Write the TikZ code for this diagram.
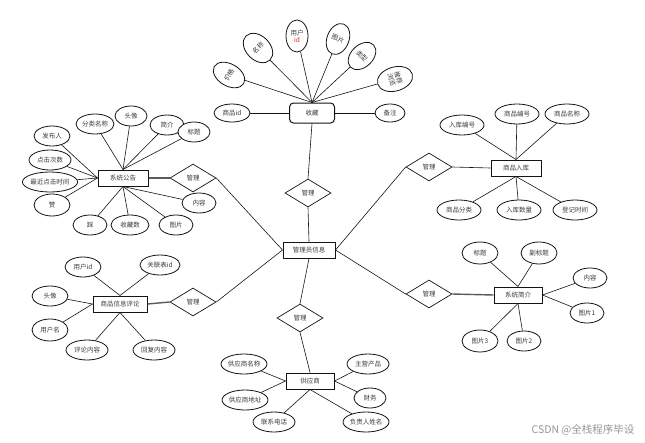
\documentclass[tikz,border=0pt]{standalone}
\usepackage{fontspec}
\newfontfamily\cjk{Noto Sans CJK SC}
\usetikzlibrary{shapes.geometric, positioning}
\definecolor{erLine}{RGB}{20, 20, 20}
\definecolor{erText}{RGB}{60, 60, 60}
\definecolor{erMark}{RGB}{150, 150, 150}
\definecolor{erRed}{RGB}{200, 40, 40}
\tikzset{
    erEntity/.style={draw=erLine, line width=1pt, fill=white, minimum width=50pt,
        minimum height=16pt, inner sep=1pt, text=erText,
        font=\cjk\fontsize{6.5}{7}\selectfont},
    erAttr/.style={draw=erLine, ellipse, line width=0.8pt, fill=white,
        minimum width=40pt, minimum height=20pt, inner sep=0pt, text=erText,
        align=center, font=\cjk\fontsize{6.5}{7}\selectfont},
    erRel/.style={draw=erLine, diamond, aspect=1.6, line width=0.7pt, fill=white,
        minimum width=46pt, minimum height=28pt, inner sep=0pt, text=erText,
        font=\cjk\fontsize{6.5}{7}\selectfont},
    erLink/.style={draw=erLine, line width=0.6pt},
    erLinkBold/.style={draw=erLine!70, line width=1.4pt},
}

\begin{document}
\begin{tikzpicture}[x=1pt, y=-1pt]
    \useasboundingbox (0,0) rectangle (645,442);

    % Admin and relations
    \node[erEntity, minimum width=52pt] (admin) at (309,250) {管理员信息};
    \node[erRel] (relTop) at (308,193) {管理};
    \node[erRel] (relNotice) at (193,178) {管理};
    \node[erRel] (relComment) at (193,302) {管理};
    \node[erRel] (relStock) at (429,167) {管理};
    \node[erRel] (relIntro) at (429,294) {管理};
    \node[erRel] (relSupply) at (300,318) {管理};

    % Favourites
    \node[erEntity, rounded corners=4pt, minimum width=45pt, minimum height=20pt]
        (favour) at (312,113) {收藏};
    \node[erAttr, minimum width=36pt, minimum height=18pt] (favGoodsId) at (232,113) {商品id};
    \node[erAttr, minimum width=30pt, minimum height=18pt] (favNote) at (390,113) {备注};
    \node[erAttr, minimum width=22pt, minimum height=34pt, rotate=60] (favPrice) at (229,75) {价格};
    \node[erAttr, minimum width=24pt, minimum height=34pt, rotate=45] (favName) at (258,48) {名称};
    \node[erAttr, minimum width=22pt, minimum height=32pt] (favUser) at (297,36)
        {用户\\\textcolor{erRed}{id}};
    \node[erAttr, minimum width=22pt, minimum height=32pt, rotate=-21] (favImage) at (338,39) {图片};
    \node[erAttr, minimum width=22pt, minimum height=32pt, rotate=-46] (favType) at (362,56) {类型};
    \node[erAttr, minimum width=24pt, minimum height=36pt, rotate=-74] (favBrowse) at (395,79) {推荐\\浏览};

    % Notice
    \node[erEntity] (notice) at (123,178) {系统公告};
    \node[erAttr, minimum width=36pt] (ntAuthor) at (52,136) {发布人};
    \node[erAttr, minimum width=38pt] (ntClass) at (95,124) {分类名称};
    \node[erAttr, minimum width=32pt] (ntAvatar) at (131,116) {头像};
    \node[erAttr, minimum width=34pt] (ntBrief) at (167,125) {简介};
    \node[erAttr, minimum width=32pt] (ntTitle) at (194,132) {标题};
    \node[erAttr, minimum width=42pt] (ntClicks) at (50,160) {点击次数};
    \node[erAttr, minimum width=54pt] (ntRecent) at (50,182) {最近点击时间};
    \node[erAttr, minimum width=36pt, minimum height=22pt] (ntLike) at (52,205) {赞};
    \node[erAttr, minimum width=34pt] (ntDislike) at (90,225) {踩};
    \node[erAttr, minimum width=38pt] (ntStore) at (130,225) {收藏数};
    \node[erAttr, minimum width=34pt] (ntImage) at (176,225) {图片};
    \node[erAttr, minimum width=34pt] (ntContent) at (199,203) {内容};

    % Comments
    \node[erEntity, minimum width=54pt] (comment) at (120,304) {商品信息评论};
    \node[erAttr, minimum width=36pt] (cmUser) at (83,267) {用户id};
    \node[erAttr, minimum width=40pt] (cmTable) at (160,265) {关联表id};
    \node[erAttr, minimum width=36pt] (cmAvatar) at (50,296) {头像};
    \node[erAttr, minimum width=36pt, minimum height=22pt] (cmName) at (50,330) {用户名};
    \node[erAttr, minimum width=42pt] (cmText) at (87,350) {评论内容};
    \node[erAttr, minimum width=42pt] (cmReply) at (154,350) {回复内容};

    % Stock in
    \node[erEntity] (stock) at (516,168) {商品入库};
    \node[erAttr, minimum width=44pt] (stNo) at (462,125) {入库编号};
    \node[erAttr, minimum width=44pt] (stGoodsNo) at (517,114) {商品编号};
    \node[erAttr, minimum width=44pt] (stGoodsName) at (567,114) {商品名称};
    \node[erAttr, minimum width=44pt] (stClass) at (459,210) {商品分类};
    \node[erAttr, minimum width=44pt] (stAmount) at (519,210) {入库数量};
    \node[erAttr, minimum width=44pt] (stTime) at (575,210) {登记时间};

    % Introduction
    \node[erEntity, minimum width=48pt] (intro) at (518,295) {系统简介};
    \node[erAttr, minimum width=36pt, minimum height=22pt] (inTitle) at (480,253) {标题};
    \node[erAttr, minimum width=36pt, minimum height=22pt] (inSub) at (539,253) {副标题};
    \node[erAttr, minimum width=34pt] (inContent) at (590,278) {内容};
    \node[erAttr, minimum width=34pt] (inImgA) at (587,313) {图片1};
    \node[erAttr, minimum width=36pt, minimum height=22pt] (inImgC) at (480,341) {图片3};
    \node[erAttr, minimum width=34pt] (inImgB) at (524,341) {图片2};

    % Supplier
    \node[erEntity, minimum width=48pt] (supplier) at (310,381) {供应商};
    \node[erAttr, minimum width=46pt] (spName) at (244,364) {供应商名称};
    \node[erAttr, minimum width=46pt] (spAddr) at (245,400) {供应商地址};
    \node[erAttr, minimum width=42pt] (spPhone) at (274,422) {联系电话};
    \node[erAttr, minimum width=42pt] (spProduct) at (368,364) {主营产品};
    \node[erAttr, minimum width=32pt] (spFinance) at (370,398) {财务};
    \node[erAttr, minimum width=46pt] (spHead) at (366,422) {负责人姓名};

    % Attribute links
    \foreach \a in {favPrice, favName, favUser, favImage, favType, favBrowse}
        \draw[erLink] (favour.north) -- (\a);
    \draw[erLink] (favour.west) -- (favGoodsId);
    \draw[erLink] (favour.east) -- (favNote);

    \foreach \a in {ntClass, ntAvatar, ntBrief, ntTitle}
        \draw[erLink] (notice.north) -- (\a);
    \foreach \a in {ntAuthor, ntClicks, ntRecent, ntLike}
        \draw[erLink] (notice.west) -- (\a);
    \foreach \a in {ntDislike, ntStore, ntImage, ntContent}
        \draw[erLink] (notice.south) -- (\a);

    \foreach \a in {cmUser, cmTable}
        \draw[erLink] (comment.north) -- (\a);
    \foreach \a in {cmAvatar, cmName}
        \draw[erLink] (comment.west) -- (\a);
    \foreach \a in {cmText, cmReply}
        \draw[erLink] (comment.south) -- (\a);

    \foreach \a in {stNo, stGoodsNo, stGoodsName}
        \draw[erLink] (stock.north) -- (\a);
    \foreach \a in {stClass, stAmount, stTime}
        \draw[erLink] (stock.south) -- (\a);

    \foreach \a in {inTitle, inSub}
        \draw[erLink] (intro.north) -- (\a);
    \foreach \a in {inContent, inImgA}
        \draw[erLink] (intro.east) -- (\a);
    \foreach \a in {inImgC, inImgB}
        \draw[erLink] (intro.south) -- (\a);

    \foreach \a in {spName, spAddr}
        \draw[erLink] (supplier.west) -- (\a);
    \foreach \a in {spPhone, spHead}
        \draw[erLink] (supplier.south) -- (\a);
    \foreach \a in {spProduct, spFinance}
        \draw[erLink] (supplier.east) -- (\a);

    % Relation links
    \draw[erLink] (favour.south) -- (relTop.north);
    \draw[erLink] (relTop.south) -- (admin.north);
    \draw[erLinkBold] (notice.east) -- (relNotice.west);
    \draw[erLink] (relNotice.east) -- (admin.west);
    \draw[erLinkBold] (comment.east) -- (relComment.west);
    \draw[erLink] (relComment.east) -- (admin.west);
    \draw[erLink] (relStock.east) -- (stock.west);
    \draw[erLink] (relStock.west) -- (admin.east);
    \draw[erLinkBold] (relIntro.east) -- (intro.west);
    \draw[erLink] (relIntro.west) -- (admin.east);
    \draw[erLink] (admin.south) -- (relSupply.north);
    \draw[erLink] (relSupply.south) -- (supplier.north);

    % Watermark
    \node[text=erMark, font=\cjk\fontsize{10.5}{12}\selectfont] (mark) at (583,430)
        {CSDN @全栈程序毕设};
\end{tikzpicture}
\end{document}
